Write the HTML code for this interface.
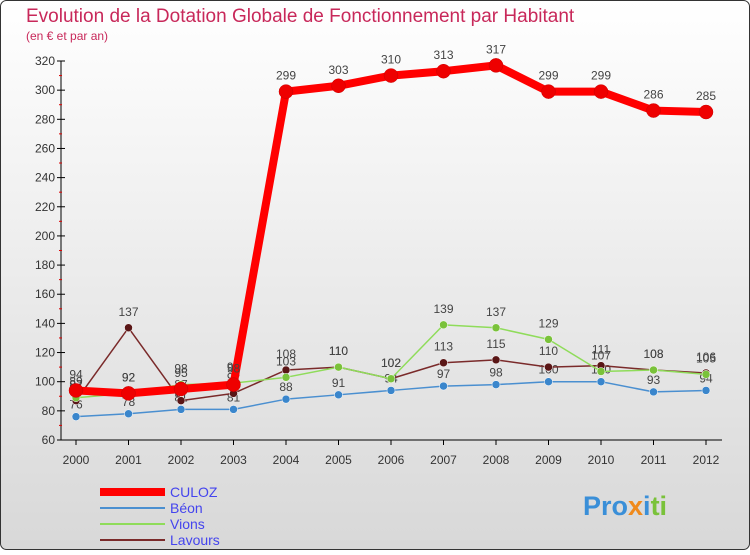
<!DOCTYPE html>
<html><head><meta charset="utf-8"><style>
body{margin:0;}
#c{width:750px;height:550px;position:relative;font-family:"Liberation Sans",sans-serif;}
</style></head><body>
<div id="c">
<svg id="s" width="750" height="550" xmlns="http://www.w3.org/2000/svg">
<defs><linearGradient id="bg" x1="0" y1="0" x2="0" y2="1"><stop offset="0" stop-color="#ffffff"/><stop offset="1" stop-color="#d8d8d8"/></linearGradient></defs>
<rect x="0.5" y="0.5" width="749" height="549" rx="6" fill="url(#bg)" stroke="#333"/>
<text x="26" y="22" font-size="19" fill="#c8285a">Evolution de la Dotation Globale de Fonctionnement par Habitant</text>
<text x="26" y="40" font-size="12" fill="#c8285a">(en € et par an)</text>
<g id="axes"></g><g id="marks"></g><g id="legend"></g>
<text x="583" y="515" font-size="27" font-weight="bold"><tspan fill="#3a8fd8">Pro</tspan><tspan fill="#f08a1c">x</tspan><tspan fill="#3a8fd8">i</tspan><tspan fill="#7ac23a">ti</tspan></text>
</svg></div>
<script>
const years=["2000","2001","2002","2003","2004","2005","2006","2007","2008","2009","2010","2011","2012"];
const culoz=[94,92,95,98,299,303,310,313,317,299,299,286,285];
const beon=[76,78,81,81,88,91,94,97,98,100,100,93,94];
const vions=[89,92,98,99,103,110,102,139,137,129,107,108,105];
const lavours=[87,137,87,92,108,110,102,113,115,110,111,108,106];
const yTicks=[60,80,100,120,140,160,180,200,220,240,260,280,300,320];
const NS="http://www.w3.org/2000/svg";
const X=i=>76+i*52.5, Y=v=>440-(v-60)*(379/260);
function mk(t,a,p){const e=document.createElementNS(NS,t);for(const k in a)e.setAttribute(k,a[k]);p.appendChild(e);return e;}
const ax=document.getElementById('axes'),mg=document.getElementById('marks'),lg=document.getElementById('legend');
let l=mk('line',{x1:61,y1:61,x2:61,y2:440,stroke:'#000'},ax);


l=mk('line',{x1:61,y1:440,x2:722,y2:440,stroke:'#000'},ax);


yTicks.forEach(v=>{const y=Y(v);
 mk('line',{x1:57,y1:y,x2:65,y2:y,stroke:'#000'},ax);
 if(v<320)mk('line',{x1:59,y1:y-14.6,x2:62,y2:y-14.6,stroke:'#d00'},ax);
 const t=mk('text',{x:55,y:y+4,'font-size':12,'text-anchor':'end',fill:'#333'},ax);t.textContent=v;
 
 });
years.forEach((yr,i)=>{mk('line',{x1:X(i),y1:440,x2:X(i),y2:445,stroke:'#000'},ax);
 const t=mk('text',{x:X(i),y:464,'font-size':12,'text-anchor':'middle',fill:'#333'},ax);t.textContent=yr;
 
 });
const series=[["beon",beon,'#4a8fd0',1.5,4,'#3a86cc'],["lavours",lavours,'#7a2a2a',1.5,4,'#5a1616'],["vions",vions,'#8fdc5a',1.5,4,'#7ac23a'],["culoz",culoz,'#ff0000',8,7,'#ee0000']];
series.forEach(([n,d,c,w,r,fc])=>{
 const p=mk('polyline',{points:d.map((v,i)=>X(i)+','+Y(v)).join(' '),fill:'none',stroke:c,'stroke-width':w,'stroke-linejoin':'round'},mg);
 
 
 d.forEach((v,i)=>{const ci=mk('circle',{cx:X(i),cy:Y(v),r:r,fill:fc,stroke:c==='#ff0000'?'#c00':'#fff','stroke-width':0.5},mg);
  
  
  const t=mk('text',{x:X(i),y:Y(v)+(n==='beon'?-8:-12),'font-size':12,'text-anchor':'middle',fill:'#444'},mg);t.textContent=v;
  
  });
});
const leg=[["CULOZ",'#ff0000',8,'#4444ee'],["Béon",'#4a8fd0',2,'#4444ee'],["Vions",'#8fdc5a',2,'#4444ee'],["Lavours",'#7a2a2a',2,'#4444ee']];
leg.forEach(([n,c,w,tc],k)=>{const y=492+k*16;
 const ln=mk('line',{x1:100,y1:y,x2:165,y2:y,stroke:c,'stroke-width':w},lg);
 
 
 const t=mk('text',{x:170,y:y+5,'font-size':14,fill:tc},lg);t.textContent=n;
 
 });
</script></body></html>
